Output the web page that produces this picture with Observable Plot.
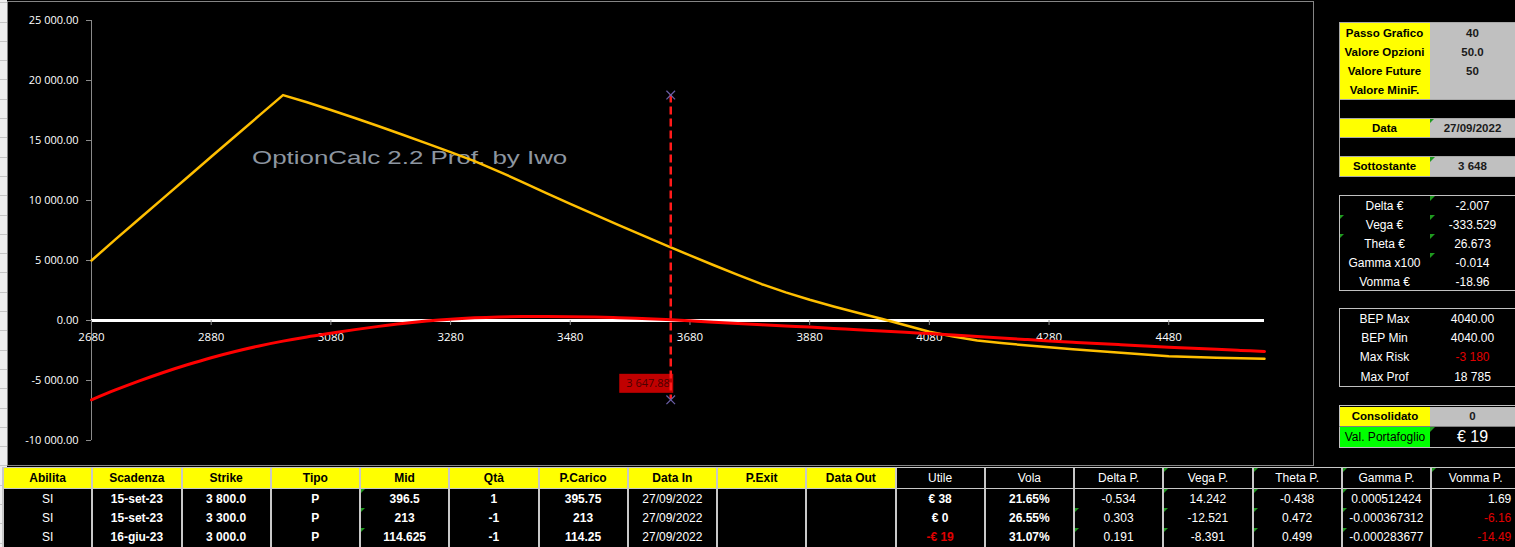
<!DOCTYPE html>
<html><head><meta charset="utf-8">
<script src="https://cdn.jsdelivr.net/npm/d3@7"></script>
<script src="https://cdn.jsdelivr.net/npm/@observablehq/plot@0.6"></script>
<style>
html,body{margin:0;padding:0;background:#000;width:1515px;height:547px;overflow:hidden;}
body{position:relative;font-family:"Liberation Sans",Arial,sans-serif;}
.strip{position:absolute;left:0;top:0;width:7px;height:547px;background:#efefef repeating-linear-gradient(to bottom,#efefef 0,#efefef 2.3px,#c6c6c6 2.3px,#c6c6c6 3.3px,#efefef 3.3px,#efefef 19.3px);}
#chart{position:absolute;left:7px;top:1px;width:1307px;height:465px;border:1px solid #858585;box-sizing:border-box;background:#000;}
#chart svg{position:absolute;left:0;top:0;}
.wm{position:absolute;left:244px;top:145px;font:18.5px "Liberation Sans",Arial,sans-serif;color:#8d96a0;transform:scaleX(1.4);transform-origin:0 0;white-space:nowrap;}
.c{position:absolute;box-sizing:border-box;display:flex;align-items:center;justify-content:center;white-space:nowrap;font-size:12px;overflow:hidden;}
.tri::before{content:"";position:absolute;left:0;top:0;border-top:5px solid #1f9a1f;border-right:5px solid transparent;}
.ln{position:absolute;background:#c8c8c8;}
</style></head>
<body>
<div class="strip"></div>
<div id="chart"><div class="wm">OptionCalc 2.2 Prof. by Iwo</div></div>
<div id="panel"></div>
<script>
// ---------- chart data ----------
const prices = [2680,2720,2760,2800,2840,2880,2920,2960,3000,3040,3080,3120,3160,3200,3240,3280,3320,3360,3400,3440,3480,3520,3560,3600,3640,3680,3720,3760,3800,3840,3880,3920,3960,4000,4040,4080,4120,4160,4200,4240,4280,4320,4360,4400,4440,4480,4520,4560,4600,4640];
const expiryPL = [5000,6760,8480,10200,11920,13640,15360,17070,18785,18185,17545,16875,16185,15475,14755,14025,13285,12435,11535,10615,9715,8845,7975,7115,6265,5425,4605,3805,3025,2345,1725,1165,645,145,-400,-940,-1330,-1660,-1880,-2060,-2220,-2390,-2550,-2690,-2830,-2970,-3040,-3100,-3150,-3180];
const todayPL = [-6610,-5790,-5030,-4330,-3690,-3100,-2580,-2120,-1720,-1370,-1060,-760,-490,-250,-50,110,220,290,325,335,320,285,230,160,80,-30,-150,-260,-360,-455,-550,-660,-770,-880,-985,-1090,-1215,-1340,-1460,-1580,-1700,-1810,-1915,-2020,-2120,-2220,-2310,-2400,-2490,-2575];
const xTicks = [2680,2880,3080,3280,3480,3680,3880,4080,4280,4480];
const yTicks = [-10000,-5000,0,5000,10000,15000,20000,25000];
const spot = 3647.88;

// ---------- table data ----------
const headers = ["Abilita","Scadenza","Strike","Tipo","Mid","Qtà","P.Carico","Data In","P.Exit","Data Out","Utile","Vola","Delta P.","Vega P.","Theta P.","Gamma P.","Vomma P."];
const abilita = ["SI","SI","SI"];
const scadenza = ["15-set-23","15-set-23","16-giu-23"];
const strike = ["3 800.0","3 300.0","3 000.0"];
const tipo = ["P","P","P"];
const mid = ["396.5","213","114.625"];
const qta = ["1","-1","-1"];
const pCarico = ["395.75","213","114.25"];
const dataIn = ["27/09/2022","27/09/2022","27/09/2022"];
const pExit = ["","",""];
const dataOut = ["","",""];
const utile = ["€ 38","€ 0","-€ 19"];
const vola = ["21.65%","26.55%","31.07%"];
const deltaP = ["-0.534","0.303","0.191"];
const vegaP = ["14.242","-12.521","-8.391"];
const thetaP = ["-0.438","0.472","0.499"];
const gammaP = ["0.000512424","-0.000367312","-0.000283677"];
const vommaP = ["1.69","-6.16","-14.49"];

const setupLabels = ["Passo Grafico","Valore Opzioni","Valore Future","Valore MiniF."];
const setupValues = ["40","50.0","50",""];
const dataLabel = "Data", dataValue = "27/09/2022";
const sottoLabel = "Sottostante", sottoValue = "3 648";
const greekLabels = ["Delta €","Vega €","Theta €","Gamma x100","Vomma €"];
const greekValues = ["-2.007","-333.529","26.673","-0.014","-18.96"];
const bepLabels = ["BEP Max","BEP Min","Max Risk","Max Prof"];
const bepValues = ["4040.00","4040.00","-3 180","18 785"];
const consLabel = "Consolidato", consValue = "0";
const portLabel = "Val. Portafoglio", portValue = "€ 19";

// ---------- chart ----------
const fmtNum = (v, dec) => (v < 0 ? "-" : "") + d3.format(`,.${dec}f`)(Math.abs(v)).replace(/,/g, " ");
const rows = prices.map((p, i) => ({p, exp: expiryPL[i], now: todayPL[i]}));
const maxY = d3.max(expiryPL), minY = d3.min(todayPL);
const FONT = "Open Sans, DejaVu Sans, sans-serif";

const chart = Plot.plot({
  width: 1305, height: 463,
  marginLeft: 83, marginRight: 49, marginTop: 18, marginBottom: 25,
  style: {background: "transparent", color: "#fff", fontFamily: FONT, fontSize: "11px"},
  x: {domain: [prices[0], prices[prices.length - 1]], axis: null},
  y: {domain: [yTicks[0], yTicks[yTicks.length - 1]], axis: null},
  marks: [
    Plot.ruleX([prices[0]], {y1: yTicks[0], y2: yTicks[yTicks.length - 1], stroke: "#8a8a8a", strokeWidth: 1}),
    Plot.axisY(yTicks, {tickFormat: d => fmtNum(d, 2), tickSize: 5, tickPadding: 8, stroke: "#8a8a8a", fill: "#fff", fontSize: 11, label: null}),
    Plot.ruleY([0], {stroke: "#fff", strokeWidth: 3}),
    Plot.ruleX(xTicks, {x: d => d, y1: 0, y2: 0, insetBottom: -5, stroke: "#8a8a8a"}),
    Plot.text(xTicks, {x: d => d, y: 0, dy: 17, text: d => String(d), fill: "#fff", fontSize: 11.5}),
    Plot.line(rows, {x: "p", y: "exp", stroke: "#ffbf00", strokeWidth: 2.5}),
    Plot.line(rows, {x: "p", y: "now", stroke: "#ff0000", strokeWidth: 3, curve: "catmull-rom"}),
    Plot.rect([spot], {x1: d => d, x2: d => d, y1: () => minY, y2: () => minY, insetLeft: -51, insetRight: -3, insetTop: -25.5, insetBottom: 6.5, fill: "#c00000"}),
    Plot.text([spot], {x: d => d, y: () => minY, text: d => fmtNum(d, 2), dy: -16, dx: -1, textAnchor: "end", fill: "#4a0000", fontSize: 11}),
    Plot.ruleX([spot], {y1: maxY, y2: minY, stroke: "#ff1a1a", strokeWidth: 2.5, strokeDasharray: "8,4"}),
    Plot.dot([[spot, maxY], [spot, minY]], {x: d => d[0], y: d => d[1], symbol: "times", r: 4, stroke: "#6b5fa8", strokeWidth: 1.2})
  ]
});
document.getElementById("chart").appendChild(chart);

// ---------- panels / tables ----------
const panel = document.getElementById("panel");
function cell(x, y, w, h, text, css, cls) {
  const d = document.createElement("div");
  d.className = "c" + (cls ? " " + cls : "");
  d.style.left = x + "px"; d.style.top = y + "px"; d.style.width = w + "px"; d.style.height = h + "px";
  if (css) d.style.cssText += css;
  d.textContent = text;
  panel.appendChild(d);
  return d;
}
function line(x, y, w, h, color) {
  const d = document.createElement("div");
  d.className = "ln";
  d.style.left = x + "px"; d.style.top = y + "px"; d.style.width = w + "px"; d.style.height = h + "px";
  if (color) d.style.background = color;
  panel.appendChild(d);
}
const YEL = "background:#ffff00;color:#000;font-weight:bold;font-size:11.5px;";
const GRY = "background:#c0c0c0;color:#1a1a1a;font-weight:bold;font-size:11.5px;";
const BLK = "background:#000;color:#fff;";
const LX = 1339, LW = 91, VX = 1430, VW = 85;

// setup table
setupLabels.forEach((t, i) => { cell(LX, 23 + i * 19, LW, 19, t, YEL); cell(VX, 23 + i * 19, VW, 19, setupValues[i], GRY); });
cell(LX, 118, LW, 19, dataLabel, YEL); cell(VX, 118, VW, 19, dataValue, GRY, "tri");
cell(LX, 156.5, LW, 19.5, sottoLabel, YEL); cell(VX, 156.5, VW, 19.5, sottoValue, GRY, "tri");
[22, 99, 117.5, 136.5, 156, 176].forEach(y => line(LX, y, 176, 1, "#a8a8a8"));
line(LX, 22, 1, 155, "#a8a8a8");

// greeks box
greekLabels.forEach((t, i) => {
  cell(LX, 196 + i * 19, LW, 19, t, BLK, (i === 1 || i === 2) ? "tri" : "");
  cell(VX, 196 + i * 19, VW, 19, greekValues[i], BLK, i < 4 ? "tri" : "");
});
line(LX, 195, 176, 1, "#c0c0c0"); line(LX, 290, 176, 1, "#c0c0c0"); line(LX, 195, 1, 96, "#c0c0c0");

// BEP box
bepLabels.forEach((t, i) => {
  cell(LX, 309 + i * 19.3, LW, 19.3, t, BLK);
  cell(VX, 309 + i * 19.3, VW, 19.3, bepValues[i], BLK + (bepValues[i].startsWith("-") ? "color:#e00000;" : ""));
});
line(LX, 308, 176, 1, "#c0c0c0"); line(LX, 386, 176, 1, "#c0c0c0"); line(LX, 308, 1, 79, "#c0c0c0");

// portfolio box
cell(LX + 1, 406.5, LW - 1, 19, consLabel, YEL);
cell(VX, 406.5, VW, 19, consValue, GRY);
cell(LX + 1, 427, LW - 1, 19.5, portLabel, "background:#00ff00;color:#000;font-size:12px;");
cell(VX, 427, VW, 19.5, portValue, BLK + "font-size:16px;", "tri");
line(LX, 405, 176, 1, "#c0c0c0"); line(LX, 447, 176, 1, "#c0c0c0"); line(LX, 405, 1, 43, "#c0c0c0"); line(LX, 426, 176, 1, "#808080");

// bottom table
const cols = [abilita, scadenza, strike, tipo, mid, qta, pCarico, dataIn, pExit, dataOut, utile, vola, deltaP, vegaP, thetaP, gammaP, vommaP];
const boldCols = new Set([1, 2, 3, 4, 5, 6, 10, 11]);
const triHead = new Set([13, 14, 15, 16]);
const triCell = (c, r) => c === 4 || c === 13 || c === 14 || c === 15 || (c === 12 && r > 0);
const TX = 3, CW = 89.25, HY = 468, HH = 20, RY = [489, 508.3, 527.7], RH = 19.3;
headers.forEach((h, c) => {
  const x = TX + c * CW;
  cell(x, HY, CW, HH, h, c < 10 ? "background:#ffff00;color:#000;font-weight:bold;font-size:12px;" : BLK + "font-size:12px;", triHead.has(c) ? "tri" : "");
  cols[c].forEach((v, r) => {
    let css = BLK + "font-size:12px;" + (boldCols.has(c) ? "font-weight:bold;" : "");
    if (v.startsWith("-") && (c === 10 || c === 16)) css += "color:#e00000;";
    if (c === 16) css += "justify-content:flex-end;padding-right:9px;";
    cell(x, RY[r], CW, RH, v, css, triCell(c, r) ? "tri" : "");
  });
});
line(TX, 466.5, 1515 - TX, 1.5, "#c8c8c8");
line(TX, 488, 1515 - TX, 1.2, "#c8c8c8");
for (let c = 0; c <= headers.length; c++) line(TX + c * CW - 1, 467, 2, 80, "#c8c8c8");
</script>
</body></html>
